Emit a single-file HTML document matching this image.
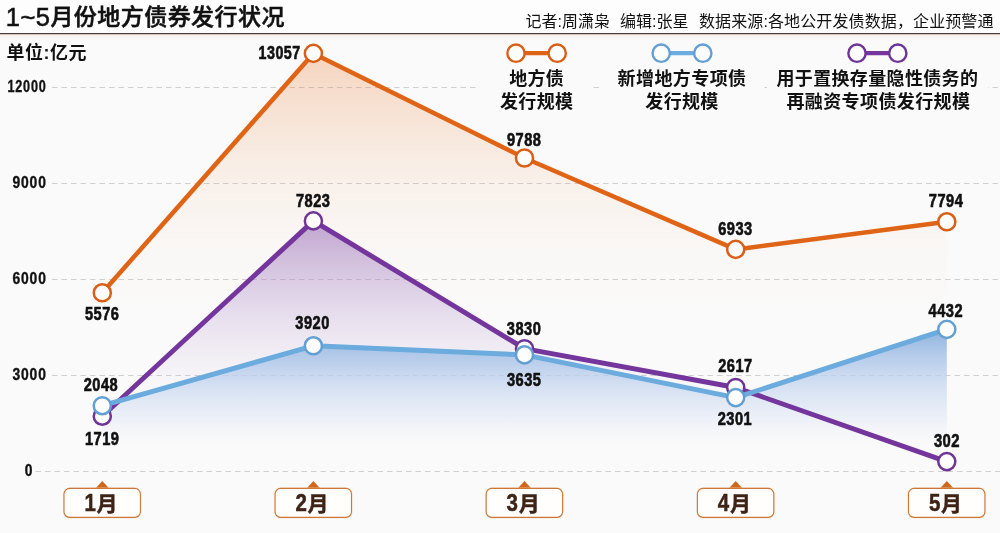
<!DOCTYPE html>
<html lang="zh-CN">
<head>
<meta charset="utf-8">
<title>1~5月份地方债券发行状况</title>
<style>
html,body{margin:0;padding:0;background:#fafafa;}
body{width:1000px;height:533px;overflow:hidden;}
svg{display:block;}
text{font-family:"Liberation Sans","Noto Sans CJK SC",sans-serif;fill:#111;}
.num{font-weight:bold;font-size:17.6px;stroke:#111;stroke-width:0.62px;letter-spacing:0.6px;}
.ax{font-weight:bold;font-size:15.6px;stroke:#111;stroke-width:0.36px;letter-spacing:1px;}
.lg{font-weight:bold;font-size:18px;text-anchor:middle;}
.mon{font-weight:bold;font-size:21px;fill:#3d2417;stroke:#3d2417;stroke-width:0.5px;}
</style>
</head>
<body>
<svg width="1000" height="533" viewBox="0 0 1000 533">
<defs>
<linearGradient id="go" gradientUnits="userSpaceOnUse" x1="0" y1="53" x2="0" y2="313">
<stop offset="0" stop-color="#e8782c" stop-opacity="0.29"/>
<stop offset="0.25" stop-color="#e97e34" stop-opacity="0.18"/>
<stop offset="0.5" stop-color="#ec8a46" stop-opacity="0.085"/>
<stop offset="0.75" stop-color="#ee9656" stop-opacity="0.03"/>
<stop offset="1" stop-color="#f0a264" stop-opacity="0"/>
</linearGradient>
<linearGradient id="gp" gradientUnits="userSpaceOnUse" x1="0" y1="221" x2="0" y2="400">
<stop offset="0" stop-color="#9a6fb8" stop-opacity="0.6"/>
<stop offset="0.6" stop-color="#b596cc" stop-opacity="0.22"/>
<stop offset="1" stop-color="#c9b3da" stop-opacity="0"/>
</linearGradient>
<linearGradient id="gb" gradientUnits="userSpaceOnUse" x1="0" y1="329" x2="0" y2="452">
<stop offset="0" stop-color="#80aadb" stop-opacity="0.9"/>
<stop offset="0.2" stop-color="#a3c0e6" stop-opacity="0.82"/>
<stop offset="0.45" stop-color="#c4d5ef" stop-opacity="0.72"/>
<stop offset="0.75" stop-color="#e4eaf6" stop-opacity="0.55"/>
<stop offset="1" stop-color="#fafafa" stop-opacity="0"/>
</linearGradient>
<linearGradient id="gh" x1="0" y1="0" x2="0" y2="1">
<stop offset="0" stop-color="#f0ddd0" stop-opacity="0.6"/>
<stop offset="1" stop-color="#fafafa" stop-opacity="0"/>
</linearGradient>
</defs>
<rect width="1000" height="533" fill="#fafafa"/>
<rect x="0" y="0" width="1000" height="33" fill="#fdfdfd"/>
<rect x="0" y="34" width="1000" height="7" fill="url(#gh)"/>
<rect x="0" y="33.05" width="1000" height="1.15" fill="#43302b"/>

<text x="5.8" y="25.3" font-size="23" font-weight="500" stroke="#111" stroke-width="0.55" textLength="278.6" lengthAdjust="spacing"><tspan font-size="25.5" dy="0.9">1~5</tspan><tspan dy="-0.9">月份地方债券发行状况</tspan></text>
<text x="525.5" y="26.6" font-size="16" fill="#222">记者:周潇枭</text>
<text x="620" y="26.6" font-size="16" fill="#222">编辑:张星</text>
<text x="699" y="26.6" font-size="16" fill="#222" textLength="294.5" lengthAdjust="spacing">数据来源:各地公开发债数据，企业预警通</text>
<text x="6.6" y="59.3" font-size="18" font-weight="bold" textLength="79.8" lengthAdjust="spacing">单位:亿元</text>
<line x1="52" y1="87.5" x2="1000" y2="87.5" stroke="#d0d0d0" stroke-width="1.1" stroke-dasharray="5.5 4"/>
<line x1="52" y1="183.5" x2="1000" y2="183.5" stroke="#d0d0d0" stroke-width="1.1" stroke-dasharray="5.5 4"/>
<line x1="52" y1="279.5" x2="1000" y2="279.5" stroke="#d0d0d0" stroke-width="1.1" stroke-dasharray="5.5 4"/>
<line x1="52" y1="375.5" x2="1000" y2="375.5" stroke="#d0d0d0" stroke-width="1.1" stroke-dasharray="5.5 4"/>
<line x1="35.5" y1="471.5" x2="1000" y2="471.5" stroke="#d0d0d0" stroke-width="1.1" stroke-dasharray="5.5 4"/>
<text class="ax" x="46.6" y="92.1" text-anchor="end" textLength="39.2" lengthAdjust="spacingAndGlyphs">12000</text>
<text class="ax" x="46.8" y="188.1" text-anchor="end" textLength="34.4" lengthAdjust="spacingAndGlyphs">9000</text>
<text class="ax" x="46.8" y="284.1" text-anchor="end" textLength="34.4" lengthAdjust="spacingAndGlyphs">6000</text>
<text class="ax" x="46.8" y="380.1" text-anchor="end" textLength="34.4" lengthAdjust="spacingAndGlyphs">3000</text>
<text class="ax" x="33.4" y="476.1" text-anchor="end" textLength="8.6" lengthAdjust="spacingAndGlyphs">0</text>
<rect x="479" y="66" width="114" height="46" fill="#fafafa"/>
<rect x="601" y="66" width="161" height="46" fill="#fafafa"/>
<rect x="767" y="66" width="221" height="46" fill="#fafafa"/>
<polygon points="102.3,471.5 102.3,292.8 313.4,53.4 524.5,158.0 735.7,249.4 946.8,221.8 946.8,471.5" fill="url(#go)"/>
<polygon points="102.3,471.5 102.3,416.2 313.4,220.9 524.5,348.7 735.7,387.5 946.8,461.6 946.8,471.5" fill="url(#gp)"/>
<polygon points="102.3,471.5 102.3,405.7 313.4,345.8 524.5,354.9 735.7,397.6 946.8,329.4 946.8,471.5" fill="url(#gb)"/>
<polyline points="102.3,292.8 313.4,53.4 524.5,158.0 735.7,249.4 946.8,221.8" fill="none" stroke="#e06416" stroke-width="4.5" stroke-linejoin="round"/>
<circle cx="102.3" cy="292.8" r="8.55" fill="#fdfdfd" stroke="#da5f16" stroke-width="2.5"/>
<circle cx="313.4" cy="53.4" r="8.55" fill="#fdfdfd" stroke="#da5f16" stroke-width="2.5"/>
<circle cx="524.5" cy="158.0" r="8.55" fill="#fdfdfd" stroke="#da5f16" stroke-width="2.5"/>
<circle cx="735.7" cy="249.4" r="8.55" fill="#fdfdfd" stroke="#da5f16" stroke-width="2.5"/>
<circle cx="946.8" cy="221.8" r="8.55" fill="#fdfdfd" stroke="#da5f16" stroke-width="2.5"/>
<polyline points="102.3,416.2 313.4,220.9 524.5,348.7 735.7,387.5 946.8,461.6" fill="none" stroke="#74369c" stroke-width="4.9" stroke-linejoin="round"/>
<circle cx="102.3" cy="416.2" r="8.55" fill="#fdfdfd" stroke="#6f3596" stroke-width="2.5"/>
<circle cx="313.4" cy="220.9" r="8.55" fill="#fdfdfd" stroke="#6f3596" stroke-width="2.5"/>
<circle cx="524.5" cy="348.7" r="8.55" fill="#fdfdfd" stroke="#6f3596" stroke-width="2.5"/>
<circle cx="735.7" cy="387.5" r="8.55" fill="#fdfdfd" stroke="#6f3596" stroke-width="2.5"/>
<circle cx="946.8" cy="461.6" r="8.55" fill="#fdfdfd" stroke="#6f3596" stroke-width="2.5"/>
<polyline points="102.3,405.7 313.4,345.8 524.5,354.9 735.7,397.6 946.8,329.4" fill="none" stroke="#6babde" stroke-width="4.9" stroke-linejoin="round"/>
<circle cx="102.3" cy="405.7" r="8.55" fill="#fdfdfd" stroke="#649fd3" stroke-width="2.5"/>
<circle cx="313.4" cy="345.8" r="8.55" fill="#fdfdfd" stroke="#649fd3" stroke-width="2.5"/>
<circle cx="524.5" cy="354.9" r="8.55" fill="#fdfdfd" stroke="#649fd3" stroke-width="2.5"/>
<circle cx="735.7" cy="397.6" r="8.55" fill="#fdfdfd" stroke="#649fd3" stroke-width="2.5"/>
<circle cx="946.8" cy="329.4" r="8.55" fill="#fdfdfd" stroke="#649fd3" stroke-width="2.5"/>
<line x1="516" y1="53.1" x2="557.2" y2="53.1" stroke="#e06416" stroke-width="4.3"/>
<circle cx="516" cy="53.2" r="8.65" fill="#fdfdfd" stroke="#da5f16" stroke-width="2.4"/>
<circle cx="557.2" cy="53.2" r="8.65" fill="#fdfdfd" stroke="#da5f16" stroke-width="2.4"/>
<line x1="661.2" y1="53.1" x2="702.8" y2="53.1" stroke="#6babde" stroke-width="4.3"/>
<circle cx="661.2" cy="53.2" r="8.65" fill="#fdfdfd" stroke="#649fd3" stroke-width="2.4"/>
<circle cx="702.8" cy="53.2" r="8.65" fill="#fdfdfd" stroke="#649fd3" stroke-width="2.4"/>
<line x1="857" y1="53.1" x2="897.8" y2="53.1" stroke="#74369c" stroke-width="4.3"/>
<circle cx="857" cy="53.2" r="8.65" fill="#fdfdfd" stroke="#6f3596" stroke-width="2.4"/>
<circle cx="897.8" cy="53.2" r="8.65" fill="#fdfdfd" stroke="#6f3596" stroke-width="2.4"/>
<text class="lg" x="536.5" y="85.2" textLength="54.5" lengthAdjust="spacing">地方债</text>
<text class="lg" x="536.5" y="107.7" textLength="73" lengthAdjust="spacing">发行规模</text>
<text class="lg" x="681.8" y="85.2" textLength="128.5" lengthAdjust="spacing">新增地方专项债</text>
<text class="lg" x="681.8" y="107.7" textLength="73" lengthAdjust="spacing">发行规模</text>
<text class="lg" x="877.2" y="85.2" textLength="201.5" lengthAdjust="spacing">用于置换存量隐性债务的</text>
<text class="lg" x="878.2" y="107.7" textLength="183.5" lengthAdjust="spacing">再融资专项债发行规模</text>
<text class="num" x="279.6" y="59.2" text-anchor="middle" textLength="42.1" lengthAdjust="spacingAndGlyphs">13057</text>
<text class="num" x="102.2" y="319.6" text-anchor="middle" textLength="34.5" lengthAdjust="spacingAndGlyphs">5576</text>
<text class="num" x="524.2" y="145.8" text-anchor="middle" textLength="34.5" lengthAdjust="spacingAndGlyphs">9788</text>
<text class="num" x="735.5" y="235.4" text-anchor="middle" textLength="34.5" lengthAdjust="spacingAndGlyphs">6933</text>
<text class="num" x="946.1" y="206.8" text-anchor="middle" textLength="34.5" lengthAdjust="spacingAndGlyphs">7794</text>
<text class="num" x="313.2" y="206.7" text-anchor="middle" textLength="34.5" lengthAdjust="spacingAndGlyphs">7823</text>
<text class="num" x="524.1" y="335.0" text-anchor="middle" textLength="34.5" lengthAdjust="spacingAndGlyphs">3830</text>
<text class="num" x="735.5" y="372.2" text-anchor="middle" textLength="34.5" lengthAdjust="spacingAndGlyphs">2617</text>
<text class="num" x="947.0" y="446.9" text-anchor="middle" textLength="26.2" lengthAdjust="spacingAndGlyphs">302</text>
<text class="num" x="102.2" y="444.9" text-anchor="middle" textLength="34.5" lengthAdjust="spacingAndGlyphs">1719</text>
<text class="num" x="101.0" y="391.1" text-anchor="middle" textLength="34.5" lengthAdjust="spacingAndGlyphs">2048</text>
<text class="num" x="312.6" y="329.3" text-anchor="middle" textLength="34.5" lengthAdjust="spacingAndGlyphs">3920</text>
<text class="num" x="524.2" y="385.7" text-anchor="middle" textLength="34.5" lengthAdjust="spacingAndGlyphs">3635</text>
<text class="num" x="734.9" y="424.8" text-anchor="middle" textLength="34.5" lengthAdjust="spacingAndGlyphs">2301</text>
<text class="num" x="945.8" y="316.9" text-anchor="middle" textLength="34.5" lengthAdjust="spacingAndGlyphs">4432</text>
<polygon points="95.4,488.6 102.3,481.1 109.2,488.6" fill="#cf681c"/>
<rect x="63.5" y="487.9" width="77.4" height="30" rx="6.1" ry="6.1" fill="none" stroke="#f7d3b3" stroke-width="1.4" opacity="0.55"/>
<rect x="64.0" y="488.4" width="76.4" height="29" rx="5.6" ry="5.6" fill="#fffefd" stroke="#c9783a" stroke-width="1.1"/>
<text class="mon" x="84.4" y="511.1"><tspan font-size="23.6" textLength="11.4" lengthAdjust="spacingAndGlyphs">1</tspan><tspan font-size="21" dx="0.7" dy="0.3">月</tspan></text>
<polygon points="306.5,488.6 313.4,481.1 320.3,488.6" fill="#cf681c"/>
<rect x="274.6" y="487.9" width="77.4" height="30" rx="6.1" ry="6.1" fill="none" stroke="#f7d3b3" stroke-width="1.4" opacity="0.55"/>
<rect x="275.1" y="488.4" width="76.4" height="29" rx="5.6" ry="5.6" fill="#fffefd" stroke="#c9783a" stroke-width="1.1"/>
<text class="mon" x="295.5" y="511.1"><tspan font-size="23.6" textLength="11.4" lengthAdjust="spacingAndGlyphs">2</tspan><tspan font-size="21" dx="0.7" dy="0.3">月</tspan></text>
<polygon points="517.6,488.6 524.5,481.1 531.4,488.6" fill="#cf681c"/>
<rect x="485.7" y="487.9" width="77.4" height="30" rx="6.1" ry="6.1" fill="none" stroke="#f7d3b3" stroke-width="1.4" opacity="0.55"/>
<rect x="486.2" y="488.4" width="76.4" height="29" rx="5.6" ry="5.6" fill="#fffefd" stroke="#c9783a" stroke-width="1.1"/>
<text class="mon" x="506.6" y="511.1"><tspan font-size="23.6" textLength="11.4" lengthAdjust="spacingAndGlyphs">3</tspan><tspan font-size="21" dx="0.7" dy="0.3">月</tspan></text>
<polygon points="728.8,488.6 735.7,481.1 742.6,488.6" fill="#cf681c"/>
<rect x="696.9" y="487.9" width="77.4" height="30" rx="6.1" ry="6.1" fill="none" stroke="#f7d3b3" stroke-width="1.4" opacity="0.55"/>
<rect x="697.4" y="488.4" width="76.4" height="29" rx="5.6" ry="5.6" fill="#fffefd" stroke="#c9783a" stroke-width="1.1"/>
<text class="mon" x="717.8" y="511.1"><tspan font-size="23.6" textLength="11.4" lengthAdjust="spacingAndGlyphs">4</tspan><tspan font-size="21" dx="0.7" dy="0.3">月</tspan></text>
<polygon points="939.9,488.6 946.8,481.1 953.7,488.6" fill="#cf681c"/>
<rect x="908.0" y="487.9" width="77.4" height="30" rx="6.1" ry="6.1" fill="none" stroke="#f7d3b3" stroke-width="1.4" opacity="0.55"/>
<rect x="908.5" y="488.4" width="76.4" height="29" rx="5.6" ry="5.6" fill="#fffefd" stroke="#c9783a" stroke-width="1.1"/>
<text class="mon" x="928.9" y="511.1"><tspan font-size="23.6" textLength="11.4" lengthAdjust="spacingAndGlyphs">5</tspan><tspan font-size="21" dx="0.7" dy="0.3">月</tspan></text>
</svg>
</body>
</html>
